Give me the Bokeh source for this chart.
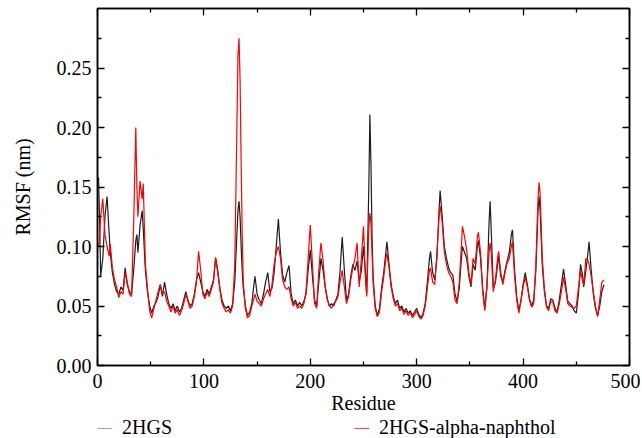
from bokeh.plotting import figure
from bokeh.layouts import column
from bokeh.models import (Range1d, LinearAxis, FixedTicker, Legend, LegendItem,
                          ColumnDataSource, PrintfTickFormatter)
from bokeh.embed import file_html
from bokeh.resources import INLINE

residue = [1, 2, 3, 5, 7, 9, 11, 12, 14, 16,
           18, 20, 22, 24, 26, 28, 30, 32, 34, 36,
           37, 38, 40, 42, 43, 45, 47, 49, 51, 53,
           55, 57, 59, 61, 63, 65, 67, 69, 71, 73,
           75, 77, 79, 81, 83, 85, 87, 89, 91, 93,
           95, 97, 99, 101, 103, 105, 107, 109, 111, 113,
           115, 117, 119, 121, 123, 125, 127, 129, 131, 132,
           133, 134, 135, 136, 137, 139, 141, 143, 145, 147,
           148, 150, 152, 154, 156, 158, 160, 162, 164, 166,
           168, 170, 172, 174, 176, 178, 180, 182, 184, 186,
           188, 190, 192, 194, 196, 198, 200, 202, 204, 206,
           208, 210, 212, 214, 216, 218, 220, 222, 224, 226,
           228, 230, 232, 234, 236, 238, 240, 242, 244, 246,
           248, 250, 252, 253, 255, 256, 257, 258, 259, 261,
           263, 265, 267, 269, 271, 272, 274, 276, 278, 280,
           282, 284, 286, 288, 290, 292, 294, 296, 298, 300,
           302, 304, 306, 308, 310, 312, 313, 315, 317, 319,
           321, 322, 324, 326, 328, 330, 332, 334, 336, 338,
           340, 342, 343, 345, 347, 349, 351, 353, 355, 357,
           358, 360, 362, 364, 366, 368, 369, 370, 372, 374,
           376, 377, 379, 381, 383, 385, 387, 389, 390, 392,
           394, 396, 398, 400, 402, 404, 406, 408, 410, 412,
           414, 415, 416, 418, 420, 422, 424, 426, 428, 430,
           432, 434, 436, 438, 440, 442, 444, 446, 448, 450,
           452, 454, 456, 457, 459, 461, 462, 464, 466, 468,
           470, 472, 474, 476]

rmsf_2hgs = [0.158, 0.120, 0.075, 0.090, 0.125, 0.142, 0.110, 0.095, 0.078, 0.068,
             0.062, 0.060, 0.066, 0.063, 0.082, 0.068, 0.062, 0.060, 0.080, 0.105,
             0.110, 0.095, 0.118, 0.130, 0.115, 0.080, 0.062, 0.050, 0.044, 0.050,
             0.053, 0.058, 0.068, 0.058, 0.070, 0.060, 0.052, 0.048, 0.052, 0.046,
             0.050, 0.045, 0.048, 0.055, 0.062, 0.055, 0.050, 0.052, 0.060, 0.072,
             0.078, 0.070, 0.062, 0.058, 0.064, 0.060, 0.066, 0.072, 0.090, 0.080,
             0.065, 0.055, 0.050, 0.048, 0.050, 0.046, 0.052, 0.070, 0.110, 0.130,
             0.138, 0.125, 0.100, 0.080, 0.065, 0.050, 0.042, 0.045, 0.052, 0.068,
             0.075, 0.060, 0.055, 0.052, 0.060, 0.070, 0.078, 0.062, 0.065, 0.078,
             0.100, 0.123, 0.095, 0.076, 0.070, 0.078, 0.084, 0.060, 0.052, 0.055,
             0.050, 0.053, 0.050, 0.054, 0.060, 0.080, 0.097, 0.075, 0.055, 0.050,
             0.070, 0.090, 0.080, 0.066, 0.056, 0.050, 0.052, 0.050, 0.055, 0.060,
             0.080, 0.108, 0.080, 0.055, 0.060, 0.075, 0.085, 0.080, 0.088, 0.070,
             0.080, 0.100, 0.075, 0.060, 0.150, 0.211, 0.170, 0.110, 0.075, 0.050,
             0.042, 0.048, 0.065, 0.078, 0.095, 0.104, 0.085, 0.068, 0.058, 0.052,
             0.055, 0.048, 0.050, 0.045, 0.048, 0.044, 0.046, 0.042, 0.045, 0.048,
             0.043, 0.040, 0.044, 0.052, 0.070, 0.090, 0.096, 0.078, 0.072, 0.090,
             0.130, 0.147, 0.125, 0.100, 0.090, 0.082, 0.078, 0.076, 0.060, 0.054,
             0.065, 0.090, 0.100, 0.095, 0.090, 0.075, 0.066, 0.085, 0.080, 0.100,
             0.105, 0.090, 0.065, 0.048, 0.065, 0.120, 0.138, 0.115, 0.065, 0.070,
             0.085, 0.092, 0.075, 0.070, 0.080, 0.088, 0.095, 0.110, 0.114, 0.080,
             0.058, 0.046, 0.055, 0.068, 0.078, 0.068, 0.056, 0.050, 0.055, 0.080,
             0.130, 0.142, 0.130, 0.085, 0.062, 0.050, 0.048, 0.056, 0.055, 0.048,
             0.045, 0.055, 0.068, 0.081, 0.068, 0.054, 0.052, 0.050, 0.046, 0.044,
             0.060, 0.085, 0.075, 0.066, 0.080, 0.095, 0.104, 0.080, 0.060, 0.048,
             0.042, 0.050, 0.062, 0.068]

rmsf_naphthol = [0.100, 0.108, 0.125, 0.140, 0.110, 0.100, 0.092, 0.102, 0.082, 0.072,
                 0.066, 0.057, 0.062, 0.060, 0.078, 0.070, 0.060, 0.058, 0.120, 0.200,
                 0.150, 0.125, 0.155, 0.140, 0.153, 0.085, 0.064, 0.046, 0.040, 0.048,
                 0.055, 0.062, 0.068, 0.060, 0.062, 0.054, 0.050, 0.045, 0.050, 0.044,
                 0.047, 0.042, 0.046, 0.052, 0.060, 0.054, 0.048, 0.050, 0.058, 0.070,
                 0.096, 0.080, 0.060, 0.056, 0.062, 0.058, 0.064, 0.070, 0.091, 0.078,
                 0.064, 0.052, 0.048, 0.045, 0.047, 0.044, 0.050, 0.085, 0.200, 0.260,
                 0.275, 0.240, 0.170, 0.110, 0.070, 0.048, 0.040, 0.042, 0.050, 0.056,
                 0.060, 0.054, 0.052, 0.050, 0.056, 0.060, 0.064, 0.058, 0.068, 0.085,
                 0.095, 0.100, 0.090, 0.072, 0.066, 0.064, 0.066, 0.056, 0.050, 0.053,
                 0.048, 0.050, 0.048, 0.052, 0.062, 0.090, 0.118, 0.085, 0.052, 0.048,
                 0.080, 0.103, 0.088, 0.066, 0.055, 0.050, 0.048, 0.052, 0.054, 0.058,
                 0.070, 0.080, 0.066, 0.052, 0.058, 0.072, 0.082, 0.090, 0.103, 0.066,
                 0.090, 0.117, 0.070, 0.058, 0.115, 0.128, 0.120, 0.095, 0.070, 0.048,
                 0.041, 0.045, 0.062, 0.074, 0.090, 0.094, 0.082, 0.066, 0.056, 0.050,
                 0.052, 0.046, 0.048, 0.043, 0.046, 0.042, 0.045, 0.040, 0.043, 0.046,
                 0.041, 0.039, 0.042, 0.050, 0.065, 0.080, 0.082, 0.070, 0.068, 0.095,
                 0.125, 0.134, 0.120, 0.095, 0.085, 0.078, 0.075, 0.070, 0.055, 0.052,
                 0.070, 0.100, 0.117, 0.108, 0.097, 0.078, 0.068, 0.090, 0.085, 0.108,
                 0.112, 0.095, 0.062, 0.046, 0.068, 0.095, 0.103, 0.095, 0.062, 0.072,
                 0.090, 0.096, 0.078, 0.068, 0.078, 0.086, 0.090, 0.100, 0.104, 0.075,
                 0.055, 0.044, 0.054, 0.066, 0.074, 0.066, 0.055, 0.049, 0.052, 0.085,
                 0.140, 0.154, 0.145, 0.090, 0.065, 0.049, 0.046, 0.054, 0.053, 0.046,
                 0.044, 0.052, 0.062, 0.074, 0.064, 0.052, 0.050, 0.049, 0.048, 0.050,
                 0.065, 0.080, 0.070, 0.068, 0.090, 0.088, 0.085, 0.075, 0.062, 0.050,
                 0.041, 0.055, 0.070, 0.072]

x_ticks = [0, 100, 200, 300, 400, 500]
x_minor = [50, 150, 250, 350, 450]
y_ticks = [0.0, 0.05, 0.10, 0.15, 0.20, 0.25]
y_minor = [0.025, 0.075, 0.125, 0.175, 0.225, 0.275]
series_names = ["2HGS", "2HGS-alpha-naphthol"]

FONT = "Liberation Serif"
FS = "20px"

p = figure(width=640, height=416, output_backend="svg", toolbar_location=None,
           x_range=Range1d(0, 500), y_range=Range1d(0, 0.3),
           min_border_left=97, min_border_right=11, min_border_top=8,
           min_border_bottom=50)
p.background_fill_color = "white"
p.border_fill_color = "white"
p.grid.visible = False
p.outline_line_color = "black"
p.outline_line_width = 1.5

src = ColumnDataSource(dict(res=residue, a=rmsf_2hgs, b=rmsf_naphthol))
p.line("res", "a", source=src, line_color="#1c1c1c", line_width=1.2)
p.line("res", "b", source=src, line_color="#ff0000", line_width=1.2)

xt = FixedTicker(ticks=x_ticks, minor_ticks=x_minor)
yt = FixedTicker(ticks=y_ticks, minor_ticks=y_minor)

def style(ax, show_labels):
    ax.axis_line_color = "black"
    ax.axis_line_width = 1.5
    ax.major_tick_in = 7
    ax.major_tick_out = 0
    ax.minor_tick_in = 4
    ax.minor_tick_out = 0
    ax.major_tick_line_width = 1.3
    ax.minor_tick_line_width = 1.3
    ax.major_label_text_font = FONT
    ax.axis_label_text_font = FONT
    ax.axis_label_text_font_size = FS
    ax.axis_label_text_font_style = "normal"
    ax.axis_label_text_color = "black"
    if show_labels:
        ax.major_label_text_font_size = FS
        ax.major_label_text_color = "black"
    else:
        ax.major_label_text_font_size = "0px"
        ax.major_label_text_color = None
        ax.major_label_standoff = 0

p.xaxis.ticker = xt
p.yaxis.ticker = yt
p.yaxis.formatter = PrintfTickFormatter(format="%.2f")
p.xaxis.axis_label = "Residue"
p.yaxis.axis_label = "RMSF (nm)"
style(p.xaxis[0], True)
style(p.yaxis[0], True)
p.xaxis.major_label_standoff = 8
p.xaxis.axis_label_standoff = 1
p.yaxis.major_label_standoff = 6
p.yaxis.axis_label_standoff = 20

top = LinearAxis(ticker=xt)
right = LinearAxis(ticker=yt)
style(top, False)
style(right, False)
p.add_layout(top, "above")
p.add_layout(right, "right")

# legend strip below the chart (its frame is aligned with the chart frame)
lg = figure(width=640, height=24, output_backend="svg", toolbar_location=None,
            x_range=Range1d(0, 1), y_range=Range1d(0, 1),
            x_axis_location=None, y_axis_location=None, title=None,
            min_border=0, min_border_left=0, min_border_right=0,
            min_border_top=0, min_border_bottom=0)
lg.grid.visible = False
lg.outline_line_color = None
lg.background_fill_color = "white"
lg.border_fill_color = "white"
nan = float("nan")
d1 = lg.line(x=[nan], y=[nan], line_color="#a8a8a8", line_width=1.2)
d2 = lg.line(x=[nan], y=[nan], line_color="#e05a5a", line_width=1.2)
legend = Legend(items=[LegendItem(label=series_names[0], renderers=[d1]),
                       LegendItem(label=series_names[1], renderers=[d2])],
                orientation="horizontal", location="top_left",
                spacing=182, padding=0, margin=0, glyph_width=15, glyph_height=16,
                label_standoff=10, label_height=18,
                border_line_color=None, background_fill_alpha=0,
                label_text_font=FONT, label_text_font_size=FS,
                label_text_color="black")
lg.add_layout(legend, "center")

layout = column(p, lg, spacing=0)
open("out.html", "w").write(file_html(layout, INLINE))
